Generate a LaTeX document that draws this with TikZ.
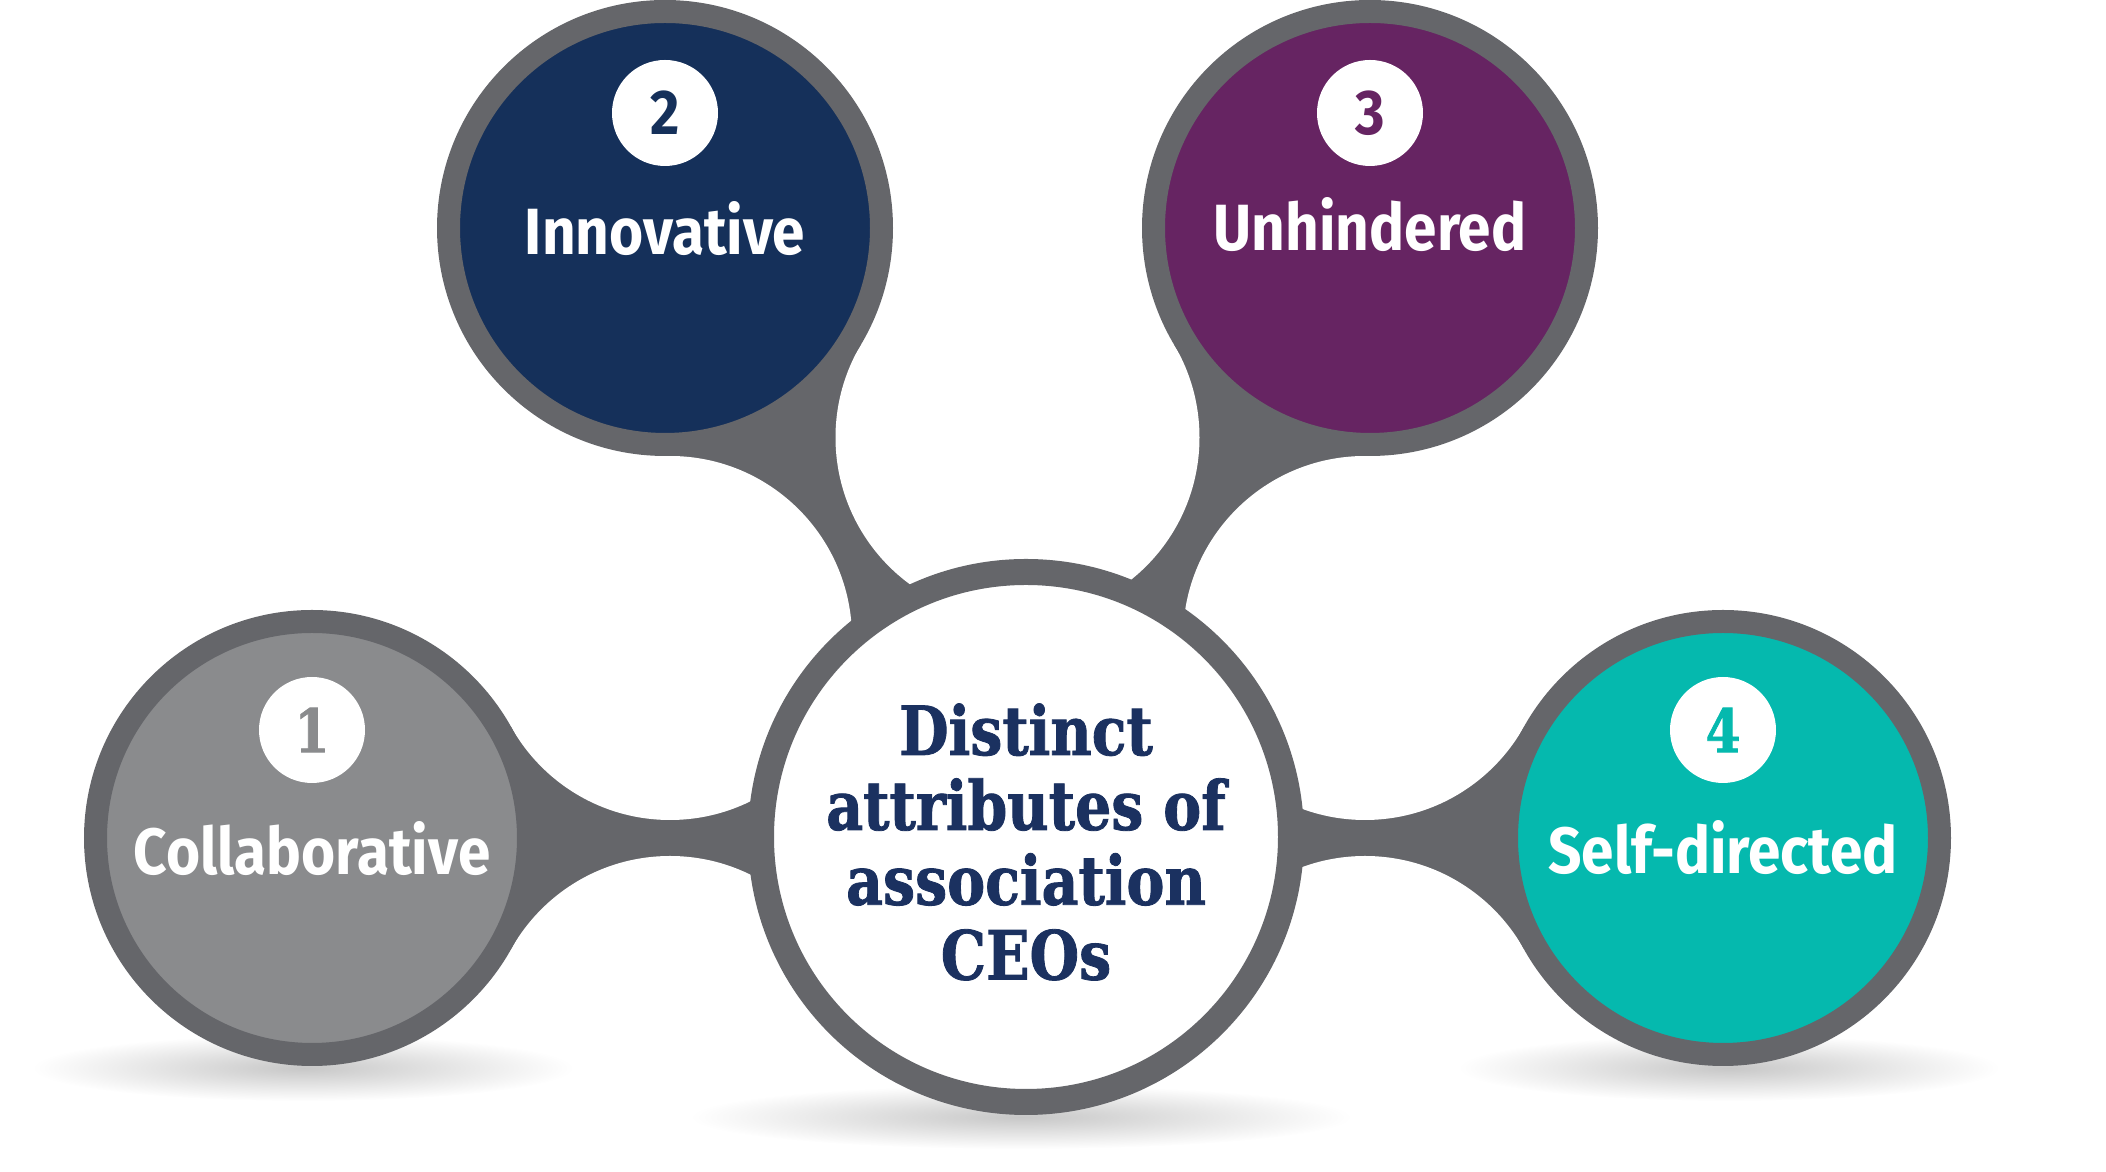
\documentclass[tikz,border=0pt]{standalone}
\usepackage{fontspec}
\usetikzlibrary{fadings}
\newfontfamily\labelfont[FakeStretch=0.895]{Fira Sans}
\newfontfamily\slabfont[FakeStretch=0.84, FakeBold=1.2]{DejaVu Serif}
\definecolor{ringgray}{HTML}{65666A}
\definecolor{stonegray}{HTML}{8A8B8D}
\definecolor{navyfill}{HTML}{15305A}
\definecolor{plumfill}{HTML}{662462}
\definecolor{tealfill}{HTML}{05B9AE}
\definecolor{navytext}{HTML}{1B3160}
\tikzfading[name=softshadow, inner color=transparent!78, outer color=transparent!100]

\begin{document}
\begin{tikzpicture}[
    bubble/.style={circle, draw=ringgray, line width=2.3mm, minimum size=43.3mm, inner sep=0pt},
    hub/.style={circle, draw=ringgray, fill=white, line width=2.6mm, minimum size=53mm, inner sep=0pt},
    badge/.style={circle, fill=white, minimum size=10.6mm, inner sep=0pt},
    neck/.style={fill=ringgray},
    gap/.style={fill=white},
    attr/.style={anchor=base, text=white, font=\labelfont\bfseries\fontsize{18.6}{20}\selectfont},
    sansnum/.style={font=\labelfont\bfseries\fontsize{18}{18}\selectfont},
    slabnum/.style={font=\slabfont\bfseries\fontsize{17}{17}\selectfont},
  ]
  \useasboundingbox (0,0) rectangle (21.06,11.72);

  \coordinate (p0) at (10.26,3.35);
  \coordinate (p1) at (3.12,3.34);
  \coordinate (p2) at (6.65,9.44);
  \coordinate (p3) at (13.70,9.44);
  \coordinate (p4) at (17.23,3.34);

  \coordinate (gl) at (6.70,5.34);
  \coordinate (gt) at (10.175,7.345);
  \coordinate (gr) at (13.65,5.34);
  \coordinate (gbl) at (6.70,1.34);
  \coordinate (gbr) at (13.65,1.34);

  \fill[neck] (p1) -- (gl) -- (p0) -- (gbl) -- cycle;
  \fill[neck] (p2) -- (gt) -- (p0) -- (gl) -- cycle;
  \fill[neck] (p3) -- (gr) -- (p0) -- (gt) -- cycle;
  \fill[neck] (p4) -- (gbr) -- (p0) -- (gr) -- cycle;
  \foreach \g in {gl,gt,gr,gbl,gbr}
    \fill[gap] (\g) circle (1.82);

  \fill[black, path fading=softshadow] (3.03,1.04) ellipse (2.7 and 0.33);
  \fill[black, path fading=softshadow] (10.21,0.55) ellipse (3.3 and 0.32);
  \fill[black, path fading=softshadow] (17.29,1.04) ellipse (2.7 and 0.33);

  \node[bubble, fill=stonegray] (c1) at (p1) {};
  \node[bubble, fill=navyfill] (c2) at (p2) {};
  \node[bubble, fill=plumfill] (c3) at (p3) {};
  \node[bubble, fill=tealfill] (c4) at (p4) {};
  \node[hub] (c0) at (p0) {};

  \node[badge, slabnum, text=stonegray] (b1) at (3.12,4.42) {1};
  \node[badge, sansnum, text=navyfill] (b2) at (6.65,10.59) {2};
  \node[badge, sansnum, text=plumfill] (b3) at (13.70,10.59) {3};
  \node[badge, slabnum, text=tealfill] (b4) at (17.23,4.42) {4};

  \node[attr] (t1) at (3.12,2.97) {Collaborative};
  \node[attr] (t2) at (6.65,9.17) {Innovative};
  \node[attr] (t3) at (13.70,9.21) {Unhindered};
  \node[attr] (t4) at (17.23,2.98) {Self-directed};

  \node[align=center, text=navytext, font=\slabfont\bfseries\fontsize{19.3}{21.3}\selectfont] (title) at (10.26,3.30) {Distinct\\attributes of\\association\\CEOs};
\end{tikzpicture}
\end{document}
